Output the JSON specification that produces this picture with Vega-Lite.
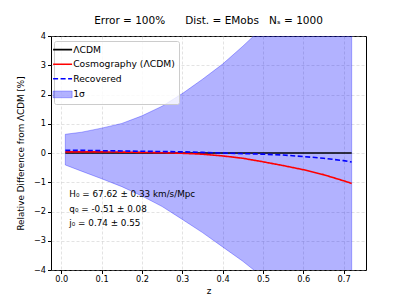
{
  "$schema": "https://vega.github.io/schema/vega-lite/v6.json",
  "width": 315,
  "height": 234,
  "autosize": {"type": "none"},
  "padding": {"left": 51, "top": 36, "right": 41, "bottom": 35},
  "background": "white",
  "config": {
    "font": "DejaVu Sans",
    "view": {"stroke": "black", "strokeWidth": 1},
    "axis": {
      "domain": false,
      "tickColor": "black",
      "tickSize": 3.5,
      "labelFontSize": 8.2,
      "labelColor": "black",
      "labelOverlap": false,
      "titleFontSize": 8.8,
      "titleFontWeight": "normal",
      "titleColor": "black",
      "grid": true,
      "gridColor": "#b0b0b0",
      "gridOpacity": 0.45,
      "gridDash": [3, 2],
      "gridWidth": 0.8
    }
  },
  "title": {
    "text": "Error = 100%\u00a0\u00a0\u00a0\u00a0\u00a0 Dist. = EMobs\u00a0\u00a0 Nₛ = 1000",
    "fontSize": 10.5,
    "fontWeight": "normal",
    "color": "black",
    "offset": 5
  },
  "datasets": {
    "band": [
      {"z": 0.01, "lo": -0.41, "hi": 0.64},
      {"z": 0.05, "lo": -0.62, "hi": 0.71},
      {"z": 0.1, "lo": -0.88, "hi": 0.85},
      {"z": 0.15, "lo": -1.15, "hi": 1.01},
      {"z": 0.2, "lo": -1.47, "hi": 1.27},
      {"z": 0.25, "lo": -1.83, "hi": 1.6},
      {"z": 0.3, "lo": -2.27, "hi": 2.03},
      {"z": 0.35, "lo": -2.72, "hi": 2.52},
      {"z": 0.4, "lo": -3.21, "hi": 3.04},
      {"z": 0.45, "lo": -3.7, "hi": 3.65},
      {"z": 0.5, "lo": -4.25, "hi": 4.3},
      {"z": 0.55, "lo": -4.9, "hi": 5.0},
      {"z": 0.6, "lo": -5.6, "hi": 5.8},
      {"z": 0.65, "lo": -6.4, "hi": 6.6},
      {"z": 0.7, "lo": -7.2, "hi": 7.5},
      {"z": 0.72, "lo": -7.6, "hi": 7.9}
    ],
    "lines": [
      {"series": "ΛCDM", "z": 0.01, "v": 0},
      {"series": "ΛCDM", "z": 0.72, "v": 0},
      {"series": "Cosmography (ΛCDM)", "z": 0.01, "v": 0.04},
      {"series": "Cosmography (ΛCDM)", "z": 0.05, "v": 0.04},
      {"series": "Cosmography (ΛCDM)", "z": 0.1, "v": 0.04},
      {"series": "Cosmography (ΛCDM)", "z": 0.15, "v": 0.03},
      {"series": "Cosmography (ΛCDM)", "z": 0.2, "v": 0.02},
      {"series": "Cosmography (ΛCDM)", "z": 0.25, "v": 0.01},
      {"series": "Cosmography (ΛCDM)", "z": 0.3, "v": -0.01},
      {"series": "Cosmography (ΛCDM)", "z": 0.35, "v": -0.04},
      {"series": "Cosmography (ΛCDM)", "z": 0.4, "v": -0.1},
      {"series": "Cosmography (ΛCDM)", "z": 0.45, "v": -0.18},
      {"series": "Cosmography (ΛCDM)", "z": 0.5, "v": -0.3},
      {"series": "Cosmography (ΛCDM)", "z": 0.55, "v": -0.43},
      {"series": "Cosmography (ΛCDM)", "z": 0.6, "v": -0.57},
      {"series": "Cosmography (ΛCDM)", "z": 0.65, "v": -0.74},
      {"series": "Cosmography (ΛCDM)", "z": 0.7, "v": -0.95},
      {"series": "Cosmography (ΛCDM)", "z": 0.72, "v": -1.04},
      {"series": "Recovered", "z": 0.01, "v": 0.09},
      {"series": "Recovered", "z": 0.05, "v": 0.09},
      {"series": "Recovered", "z": 0.1, "v": 0.08},
      {"series": "Recovered", "z": 0.15, "v": 0.07},
      {"series": "Recovered", "z": 0.2, "v": 0.06},
      {"series": "Recovered", "z": 0.25, "v": 0.05},
      {"series": "Recovered", "z": 0.3, "v": 0.04},
      {"series": "Recovered", "z": 0.35, "v": 0.02},
      {"series": "Recovered", "z": 0.4, "v": 0.0},
      {"series": "Recovered", "z": 0.45, "v": -0.02},
      {"series": "Recovered", "z": 0.5, "v": -0.04},
      {"series": "Recovered", "z": 0.55, "v": -0.07},
      {"series": "Recovered", "z": 0.6, "v": -0.12},
      {"series": "Recovered", "z": 0.65, "v": -0.18},
      {"series": "Recovered", "z": 0.7, "v": -0.26},
      {"series": "Recovered", "z": 0.72, "v": -0.31}
    ],
    "notes": [
      {"label": "H₀ = 67.62 ± 0.33 km/s/Mpc", "z": 0.02, "y": -1.41},
      {"label": "q₀ = -0.51 ± 0.08", "z": 0.02, "y": -1.92},
      {"label": "j₀ = 0.74 ± 0.55", "z": 0.02, "y": -2.4}
    ]
  },
  "layer": [
    {
      "data": {"name": "band"},
      "mark": {"type": "area", "clip": true, "fill": "#0000ff", "fillOpacity": 0.3, "stroke": "#0000ff", "strokeOpacity": 0.3, "strokeWidth": 1},
      "encoding": {
        "x": {"field": "z", "type": "quantitative", "scale": {"domain": [-0.0255, 0.7555], "nice": false, "zero": false},
              "axis": {"values": [0, 0.1, 0.2, 0.3, 0.4, 0.5, 0.6, 0.7], "format": ".1f", "title": "z", "labelPadding": 2, "titlePadding": 4, "labelOverlap": false}},
        "y": {"field": "lo", "type": "quantitative", "scale": {"domain": [-4, 4], "nice": false, "zero": false},
              "axis": {"values": [-4, -3, -2, -1, 0, 1, 2, 3, 4], "tickCount": 9, "format": "d", "title": "Relative Difference from ΛCDM [%]", "labelPadding": 2, "titlePadding": 8, "labelOverlap": false, "labelFlush": false}},
        "y2": {"field": "hi"}
      }
    },
    {
      "data": {"name": "lines"},
      "mark": {"type": "line", "clip": true, "strokeWidth": 1.6},
      "encoding": {
        "x": {"field": "z", "type": "quantitative"},
        "y": {"field": "v", "type": "quantitative"},
        "detail": {"field": "series"},
        "color": {
          "field": "series", "type": "nominal",
          "scale": {"domain": ["ΛCDM", "Cosmography (ΛCDM)", "Recovered", "1σ"], "range": ["#000000", "#ff0000", "#0000ff", "#0000ff"]},
          "legend": {
            "title": null,
            "orient": "none",
            "legendX": 3,
            "legendY": 5,
            "padding": 4,
            "fillColor": "rgba(255,255,255,0.8)",
            "strokeColor": "#cccccc",
            "cornerRadius": 2,
            "labelFontSize": 9.2,
            "labelColor": "black",
            "labelOffset": 6,
            "symbolType": "stroke",
            "symbolSize": 361,
            "symbolStrokeWidth": 1.6,
            "rowPadding": 4.6,
            "encode": {
              "symbols": {
                "update": {
                  "shape": {"signal": "datum.value === '1σ' ? 'M-1,-0.35H1V0.35H-1Z' : 'stroke'"},
                  "fill": {"signal": "datum.value === '1σ' ? '#0000ff' : 'transparent'"},
                  "fillOpacity": {"signal": "datum.value === '1σ' ? 0.3 : 0"},
                  "strokeOpacity": {"signal": "datum.value === '1σ' ? 0.3 : 1"},
                  "strokeDash": {"signal": "datum.value === 'Recovered' ? [5, 2.5] : []"},
                  "strokeWidth": {"signal": "datum.value === '1σ' ? 1 : 1.6"}
                }
              }
            }
          }
        },
        "strokeDash": {
          "field": "series", "type": "nominal",
          "scale": {"domain": ["ΛCDM", "Cosmography (ΛCDM)", "Recovered", "1σ"], "range": [[1, 0], [1, 0], [5, 2.5], [1, 0]]},
          "legend": null
        }
      }
    },
    {
      "data": {"name": "notes"},
      "mark": {"type": "text", "align": "left", "baseline": "middle", "fontSize": 8.8, "fill": "#000000"},
      "encoding": {
        "x": {"field": "z", "type": "quantitative"},
        "y": {"field": "y", "type": "quantitative"},
        "text": {"field": "label"}
      }
    }
  ]
}
